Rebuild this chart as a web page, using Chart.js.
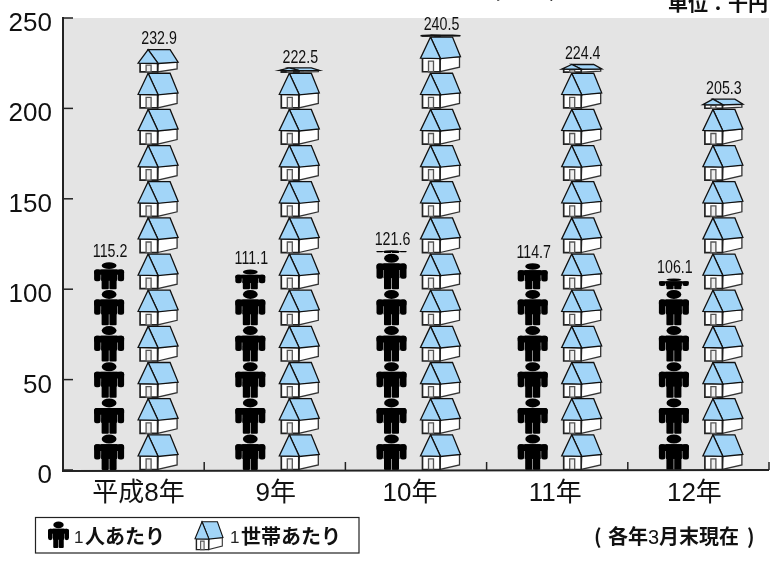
<!DOCTYPE html>
<html><head><meta charset="utf-8">
<style>html,body{margin:0;padding:0;background:#fff}#w{width:772px;height:567px;position:relative}</style>
<script src="https://cdn.jsdelivr.net/npm/chart.js@4"></script>
</head><body><div id="w"><canvas id="c"></canvas></div>
<script>
const categories = ['平成8年','9年','10年','11年','12年'];
const perPerson = [115.2,111.1,121.6,114.7,106.1];
const perHousehold = [232.9,222.5,240.5,224.4,205.3];
const yTickStep = 50;
const iconUnit = 20;
const categoryLabelNudge = [5,1,-6,-2,-4];
const fam = '"Liberation Sans","Noto Sans CJK JP",sans-serif';
const jp = '"Noto Sans CJK JP",sans-serif';

function person(ctx,x,y,w,h){
  const X=u=>x+u*w/30, Y=v=>y+v*h/36;
  ctx.fillStyle='#000';
  ctx.beginPath();
  ctx.ellipse(X(15),Y(5.2),7.4*w/30,4.5*h/36,0,0,Math.PI*2);ctx.fill();
  const rr=(a,b,c,d,r)=>{ctx.beginPath();ctx.roundRect(X(a),Y(b),X(c)-X(a),Y(d)-Y(b),Math.min(r,Math.abs(Y(d)-Y(b))/2));ctx.fill();};
  rr(0,10.3,30,17,2.5);
  rr(0,10.3,6.5,25.5,2.5);
  rr(23.5,10.3,30,25.5,2.5);
  rr(7,10.3,23,25,0);
  rr(7.5,20,14.7,36,1);
  rr(15.3,20,22.5,36,1);
}
function house(ctx,x,y,w,h,lw){
  const X=u=>x+u*w/40, Y=v=>y+v*h/36;
  const poly=(pts,fill,stroke,width)=>{
    ctx.beginPath();pts.forEach((p,i)=>i?ctx.lineTo(X(p[0]),Y(p[1])):ctx.moveTo(X(p[0]),Y(p[1])));ctx.closePath();
    if(fill){ctx.fillStyle=fill;ctx.fill();}
    if(stroke){ctx.strokeStyle=stroke;ctx.lineWidth=width;ctx.lineJoin='miter';ctx.stroke();}
  };
  poly([[20,21.5],[39,20.5],[39,31],[19.5,35.5]],'#fff','#333',lw);
  poly([[2,22],[19.5,22],[19.5,35.5],[2,35.5]],'#fff','#222',lw*1.3);
  poly([[8,25],[13,25],[13,35.5],[8,35.5]],'#eee','#555',lw);
  poly([[10,1],[32,1],[40,20.5],[20,22.5]],'#a2d5f8','#111',lw);
  poly([[10,1],[0,22],[20,22.5]],'#a2d5f8','#111',lw);
}
const picto = {
  id:'picto',
  beforeDraw(ch){
    const {ctx,chartArea:a}=ch;
    ctx.save();ctx.fillStyle='#e4e4e4';ctx.fillRect(a.left,a.top,a.right-a.left,a.bottom-a.top);ctx.restore();
  },
  afterDatasetsDraw(ch){
    const {ctx,scales:{y:ys,x:xs},chartArea:a}=ch;
    ctx.save();
    [0,1].forEach(di=>{
      ch.getDatasetMeta(di).data.forEach((bar,i)=>{
        const val=ch.data.datasets[di].data[i];
        for(let k=0;k*iconUnit<val;k++){
          const b=ys.getPixelForValue(k*iconUnit), t=ys.getPixelForValue(Math.min((k+1)*iconUnit,val));
          if(di===0) person(ctx,bar.x-15,t,30,b-t);
          else house(ctx,bar.x-20,t,40,b-t,1.3);
        }
        ctx.save();
        ctx.fillStyle='#111';ctx.textAlign='center';ctx.textBaseline='alphabetic';
        ctx.font='18px "Liberation Sans",sans-serif';
        ctx.translate(bar.x+1,ys.getPixelForValue(val)-5);ctx.scale(0.79,1);
        ctx.fillText(val.toFixed(1),0,0);
        ctx.restore();
      });
    });
    // axes
    ctx.strokeStyle='#222';ctx.lineWidth=2;
    ctx.beginPath();ctx.moveTo(a.left,a.top-1);ctx.lineTo(a.left,a.bottom+1);ctx.lineTo(a.right,a.bottom);ctx.stroke();
    ctx.lineWidth=1.5;
    ys.ticks.forEach((t,i)=>{const p=ys.getPixelForTick(i);ctx.beginPath();ctx.moveTo(a.left,p);ctx.lineTo(a.left+10,p);ctx.stroke();});
    const step=(a.right-a.left)/categories.length;
    for(let i=1;i<=categories.length;i++){const p=a.left+step*i;ctx.beginPath();ctx.moveTo(p,a.bottom);ctx.lineTo(p,a.bottom-8);ctx.stroke();}
    // axis labels
    ctx.fillStyle='#111';ctx.textBaseline='alphabetic';
    ctx.font='26px '+fam;
    ctx.textAlign='right';
    ys.ticks.forEach((t,i)=>ctx.fillText(t.label,52,ys.getPixelForTick(i)+13));
    ctx.textAlign='center';
    xs.ticks.forEach((t,i)=>ctx.fillText(categories[t.value],xs.getPixelForTick(i)+categoryLabelNudge[i],501));
    // clipped header
    ctx.textAlign='left';
    ctx.font='bold 20px '+jp;
    ctx.fillText('単位：千円',668,11);
    ctx.fillText('(',493,-3);ctx.fillText(')',549,-3);
    // legend
    ctx.strokeStyle='#222';ctx.lineWidth=1.2;ctx.strokeRect(35.5,517.5,323.5,35.5);
    person(ctx,48,521,21,27);
    house(ctx,195,521,28,29,1.1);
    ctx.fillStyle='#222';
    ctx.font='17px "Liberation Sans",sans-serif';
    ctx.fillText('1',74,543);ctx.fillText('1',230,543);
    ctx.fillStyle='#111';
    ctx.font='bold 20px '+jp;
    ctx.fillText('人あたり',85,544);
    ctx.fillText('世帯あたり',241,544);
    ctx.fillText('(',594,544);
    ctx.fillText('各年',608,544);
    ctx.fillText('月末現在',659,544);
    ctx.fillText(')',747,544);
    ctx.font='20px "Liberation Sans",sans-serif';
    ctx.fillText('3',648,544);
    ctx.restore();
  }
};
new Chart(document.getElementById('c'),{
  type:'bar',
  data:{labels:categories,datasets:[
    {label:'1人あたり',data:perPerson,backgroundColor:'rgba(0,0,0,0)'},
    {label:'1世帯あたり',data:perHousehold,backgroundColor:'rgba(0,0,0,0)'}
  ]},
  options:{
    responsive:true,maintainAspectRatio:false,animation:false,
    devicePixelRatio:1,
    layout:{padding:{left:0,right:3,top:18,bottom:0}},
    plugins:{legend:{display:false},title:{display:false},tooltip:{enabled:false}},
    datasets:{bar:{categoryPercentage:0.694,barPercentage:1}},
    scales:{
      x:{grid:{display:false},border:{display:false},
         afterFit(s){s.height=97;s.paddingLeft=0;s.paddingRight=0;},
         ticks:{display:false,autoSkip:false}},
      y:{min:0,max:250,grid:{display:false},border:{display:false},
         afterFit(s){s.width=63;s.paddingTop=0;s.paddingBottom=0;},
         ticks:{display:false,stepSize:yTickStep}}
    }
  },
  plugins:[picto]
});
</script></body></html>
